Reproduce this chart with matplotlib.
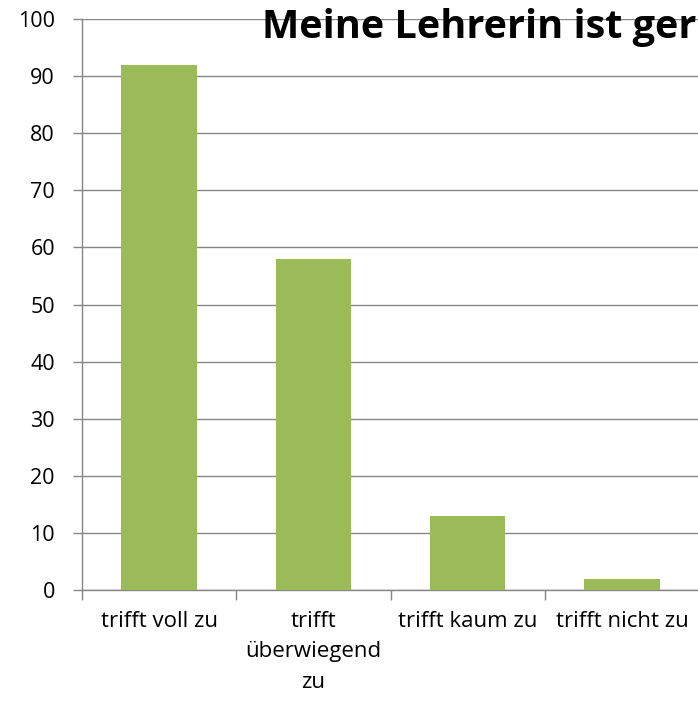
import matplotlib
matplotlib.use("Agg")
import matplotlib.pyplot as plt

categories = ["trifft voll zu", "trifft\nüberwiegend\nzu", "trifft kaum zu", "trifft nicht zu"]
values = [92, 58, 13, 2]
title = "Meine Lehrerin ist ger"

plt.rcParams['font.family'] = ['Open Sans', 'DejaVu Sans']

fig = plt.figure(figsize=(6.98, 7.04), dpi=100)
ax = fig.add_axes([82/698, 114/704, 617/698, 571/704])

grid_col = '#868686'
ax.bar(range(len(values)), values, width=0.49, color='#9BBB59', zorder=3)

ax.set_xlim(-0.5, 3.5)
ax.set_ylim(0, 100)
ax.set_yticks(range(0, 101, 10))
ax.yaxis.grid(True, color=grid_col, linewidth=1)
ax.set_axisbelow(True)

# ticks between categories, labels at centres
ax.set_xticks([-0.5, 0.5, 1.5, 2.5, 3.5])
ax.set_xticklabels([])
ax.set_xticks(range(len(categories)), minor=True)
ax.set_xticklabels(categories, minor=True, fontsize=16, linespacing=1.6, va='top')
ax.tick_params(axis='x', which='minor', length=0, pad=15)
ax.tick_params(axis='x', which='major', length=7, width=1, color=grid_col, direction='out')
ax.tick_params(axis='y', length=6.5, width=1, color=grid_col, labelsize=15.5, pad=13)

for s in ['top', 'right']:
    ax.spines[s].set_visible(False)
for s in ['left', 'bottom']:
    ax.spines[s].set_color(grid_col)
    ax.spines[s].set_linewidth(1)

fig.text(262/698, 1 - 38/704, title, fontsize=28.5, fontweight='bold', ha='left', va='baseline')

fig.savefig("out.png", dpi=100)
